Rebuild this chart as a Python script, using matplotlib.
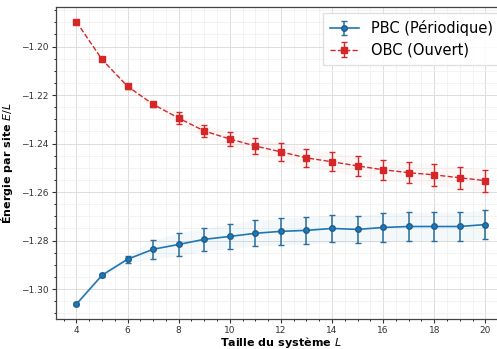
import matplotlib
matplotlib.use("Agg")
import matplotlib.pyplot as plt
from matplotlib.ticker import AutoMinorLocator
import numpy as np

L = [4, 5, 6, 7, 8, 9, 10, 11, 12, 13, 14, 15, 16, 17, 18, 19, 20]
pbc = [-1.3062, -1.2943, -1.2877, -1.2836, -1.2816, -1.2795, -1.2783, -1.2770, -1.2762,
       -1.2758, -1.2750, -1.2754, -1.2746, -1.2742, -1.2742, -1.2742, -1.2734]
pbc_err = [0.0003, 0.0006, 0.0015, 0.0039, 0.0047, 0.0047, 0.0050, 0.0053, 0.0055,
           0.0056, 0.0057, 0.0057, 0.0058, 0.0059, 0.0060, 0.0060, 0.0060]
obc = [-1.1898, -1.2053, -1.2164, -1.2238, -1.2295, -1.2348, -1.2381, -1.2410, -1.2434,
       -1.2459, -1.2475, -1.2492, -1.2508, -1.2520, -1.2529, -1.2541, -1.2553]
obc_err = [0.0003, 0.0005, 0.0010, 0.0010, 0.0026, 0.0024, 0.0030, 0.0035, 0.0037,
           0.0038, 0.0040, 0.0041, 0.0042, 0.0043, 0.0044, 0.0045, 0.0046]

x = np.array(L)
p = np.array(pbc); pe = np.array(pbc_err)
o = np.array(obc); oe = np.array(obc_err)

fig = plt.figure(figsize=(4.97, 3.49), dpi=100)
ax = fig.add_axes([0.1127, 0.086, 0.905, 0.894])

blue = '#1f77b4'
red = '#d62728'

ax.fill_between(x, p - pe, p + pe, color=blue, alpha=0.05, lw=0)
ax.fill_between(x, o - oe, o + oe, color=red, alpha=0.03, lw=0)
ax.errorbar(x, p, yerr=pe, fmt='-o', color=blue, ecolor='#2b6d9c', markersize=4,
            lw=1.2, capsize=2.5, elinewidth=1.1, capthick=1.0,
            markeredgecolor='#1f5f8f', label='PBC (Périodique)')
ax.errorbar(x, o, yerr=oe, fmt='--s', color=red, ecolor='#d62728', markersize=4,
            lw=1.0, capsize=2.5, elinewidth=1.0, capthick=1.0,
            label='OBC (Ouvert)')

ax.set_xticks([4, 6, 8, 10, 12, 14, 16, 18, 20])
ax.set_yticks([-1.30, -1.28, -1.26, -1.24, -1.22, -1.20])
ax.xaxis.set_minor_locator(AutoMinorLocator(4))
ax.yaxis.set_minor_locator(AutoMinorLocator(4))
ax.grid(True, which='major', color='#dddddd', lw=0.7)
ax.grid(True, which='minor', color='#eeeeee', lw=0.5)
ax.set_axisbelow(True)
ax.tick_params(labelsize=6.5, colors='#333333', length=3, pad=2.5)
ax.tick_params(axis='x', pad=2)
ax.tick_params(which='minor', length=1.5)
for s in ax.spines.values():
    s.set_color('#444444')
    s.set_linewidth(0.9)

ax.set_xlabel('Taille du système $L$', fontsize=8, fontweight='bold', labelpad=0)
ax.set_ylabel('Énergie par site $E/L$', fontsize=8, fontweight='bold', labelpad=4)

ax.legend(loc='upper right', fontsize=10.5, framealpha=0.9, handlelength=2.0,
          borderpad=0.5, labelspacing=0.45, fancybox=False, edgecolor='#dddddd',
          borderaxespad=0.4)

fig.savefig('out.png', dpi=100)
